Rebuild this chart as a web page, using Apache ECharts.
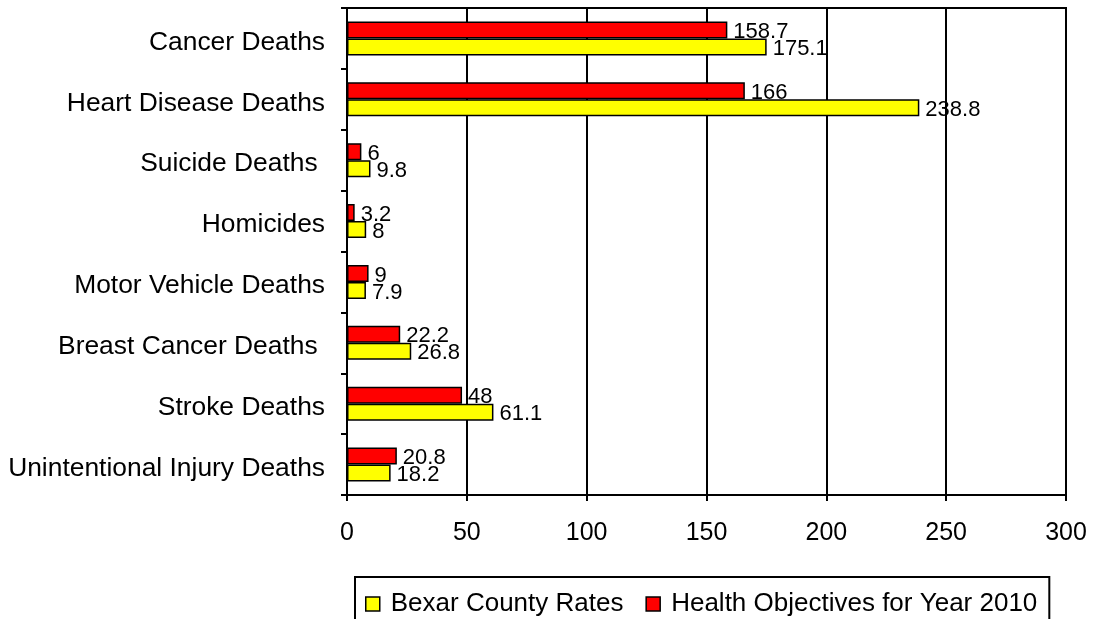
<!DOCTYPE html>
<html>
<head>
<meta charset="utf-8">
<script src="https://cdn.jsdelivr.net/npm/echarts@6/dist/echarts.min.js"></script>
<style>
  html, body { margin: 0; padding: 0; background: #fff; }
  #chart { width: 1093px; height: 619px; }
</style>
</head>
<body>
<div id="chart"></div>
<script>
// Death rates per 100,000: county figures against the 2010 health objectives
const categories = [
  'Cancer Deaths',
  'Heart Disease Deaths',
  'Suicide Deaths ',
  'Homicides',
  'Motor Vehicle Deaths',
  'Breast Cancer Deaths ',
  'Stroke Deaths',
  'Unintentional Injury Deaths'
];
const bexarRates = [175.1, 238.8, 9.8, 8, 7.9, 26.8, 61.1, 18.2];
const objectives2010 = [158.7, 166, 6, 3.2, 9, 22.2, 48, 20.8];
const seriesNames = ['Bexar County Rates', 'Health Objectives for Year 2010'];
const xTicks = { min: 0, max: 300, interval: 50 };

const FONT = "'Liberation Sans', Arial, sans-serif";
const LINE = { color: '#000', width: 2 };

function barLabel() {
  return {
    show: true,
    position: 'right',
    distance: 6,
    color: '#000',
    fontFamily: FONT,
    fontSize: 22,
    verticalAlign: 'top',
    lineHeight: 4
  };
}

const chart = echarts.init(document.getElementById('chart'));
chart.setOption({
  animation: false,
  backgroundColor: '#fff',
  grid: {
    left: 347, right: 27, top: 8, bottom: 124,
    show: true,
    borderColor: '#000',
    borderWidth: 2,
    backgroundColor: 'transparent'
  },
  legend: {
    data: seriesNames,
    left: 355,
    top: 577,
    padding: [14, 12, 30, 10],
    itemWidth: 14,
    itemHeight: 14,
    itemGap: 22,
    borderColor: '#000',
    borderWidth: 2,
    icon: 'rect',
    itemStyle: { borderColor: '#000', borderWidth: 1.5 },
    textStyle: { color: '#000', fontFamily: FONT, fontSize: 26, padding: [1, 0, 0, 6] }
  },
  xAxis: {
    type: 'value',
    min: xTicks.min,
    max: xTicks.max,
    interval: xTicks.interval,
    axisLine: { show: true, lineStyle: LINE },
    axisTick: { show: true, length: 6, lineStyle: LINE },
    splitLine: { show: true, lineStyle: LINE },
    axisLabel: { color: '#000', fontFamily: FONT, fontSize: 25, margin: 26 }
  },
  yAxis: {
    type: 'category',
    data: categories,
    inverse: true,
    axisLine: { show: true, lineStyle: LINE },
    axisTick: { show: true, length: 6, lineStyle: LINE },
    axisLabel: {
      color: '#000', fontFamily: FONT, fontSize: 26.4, margin: 22,
      verticalAlign: 'top', lineHeight: 8
    }
  },
  series: [
    {
      name: seriesNames[1],
      type: 'bar',
      data: objectives2010,
      barWidth: 17,
      barGap: '0%',
      itemStyle: { color: '#ff0000', borderColor: '#000', borderWidth: 1.5 },
      label: barLabel()
    },
    {
      name: seriesNames[0],
      type: 'bar',
      data: bexarRates,
      barWidth: 17,
      barGap: '0%',
      itemStyle: { color: '#ffff00', borderColor: '#000', borderWidth: 1.5 },
      label: barLabel()
    }
  ]
});
</script>
</body>
</html>
